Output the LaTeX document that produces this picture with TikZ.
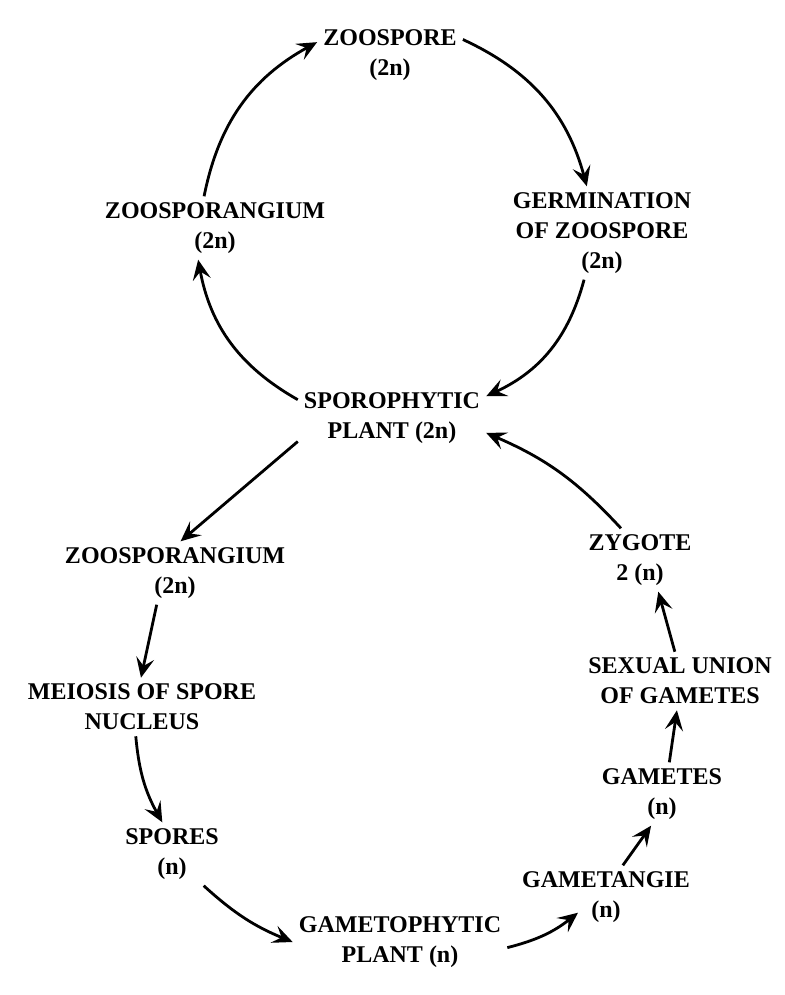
\documentclass[tikz,border=0pt]{standalone}
\usepackage{fontspec}
\setmainfont{Liberation Serif}
\usepackage{tikz}
\usetikzlibrary{arrows.meta,positioning}

\begin{document}
\begin{tikzpicture}[x=1pt,y=-1pt,
  lbl/.style={align=center, inner sep=6pt, font=\bfseries\fontsize{24}{30}\selectfont},
  arr/.style={-{Stealth[length=20pt,width=18pt,inset=8pt]}, line width=2.8pt}]
  \useasboundingbox (0,0) rectangle (784,995);
  \node[lbl] (zsp)   at (390,55)  {ZOOSPORE\\(2n)};
  \node[lbl] (germ)  at (602,233) {GERMINATION\\OF ZOOSPORE\\(2n)};
  \node[lbl] (zspa)  at (215,228) {ZOOSPORANGIUM\\(2n)};
  \node[lbl] (sporo) at (392,418) {SPOROPHYTIC\\PLANT (2n)};
  \node[lbl] (zspb)  at (175,573) {ZOOSPORANGIUM\\(2n)};
  \node[lbl] (meio)  at (142,707) {MEIOSIS OF SPORE\\NUCLEUS};
  \node[lbl] (spor)  at (172,854) {SPORES\\(n)};
  \node[lbl] (gmph)  at (400,942) {GAMETOPHYTIC\\PLANT (n)};
  \node[lbl] (gmtg)  at (606,897) {GAMETANGIE\\(n)};
  \node[lbl] (gmts)  at (662,794) {GAMETES\\(n)};
  \node[lbl] (union) at (680,681) {SEXUAL UNION\\OF GAMETES};
  \node[lbl] (zyg)   at (640,560) {ZYGOTE\\2 (n)};

  \draw[arr] (zspa.109) to[bend left=25] (zsp.170);
  \draw[arr] (zsp.12) to[bend left=25] (germ.108);
  \draw[arr] (germ.249) to[bend left=25] (sporo.13);
  \draw[arr] (sporo.169) to[bend left=25] (zspa.242);
  \draw[arr] (sporo.194) -- (zspb.80);
  \draw[arr] (zspb.240) -- (meio.92);
  \draw[arr] (meio.258) to[bend right=12] (spor.107);
  \draw[arr] (spor.315) to[bend right=10] (gmph.180);
  \draw[arr] (gmph.-3) to[bend right=12] ([xshift=-28pt,yshift=16pt]gmtg.south);
  \draw[arr] (gmtg.62) -- (gmts.251);
  \draw[arr] (gmts.77) -- (union.264);
  \draw[arr] (union.100) -- (zyg.300);
  \draw[arr] (zyg.121) to[bend right=12] (sporo.351);
\end{tikzpicture}
\end{document}
